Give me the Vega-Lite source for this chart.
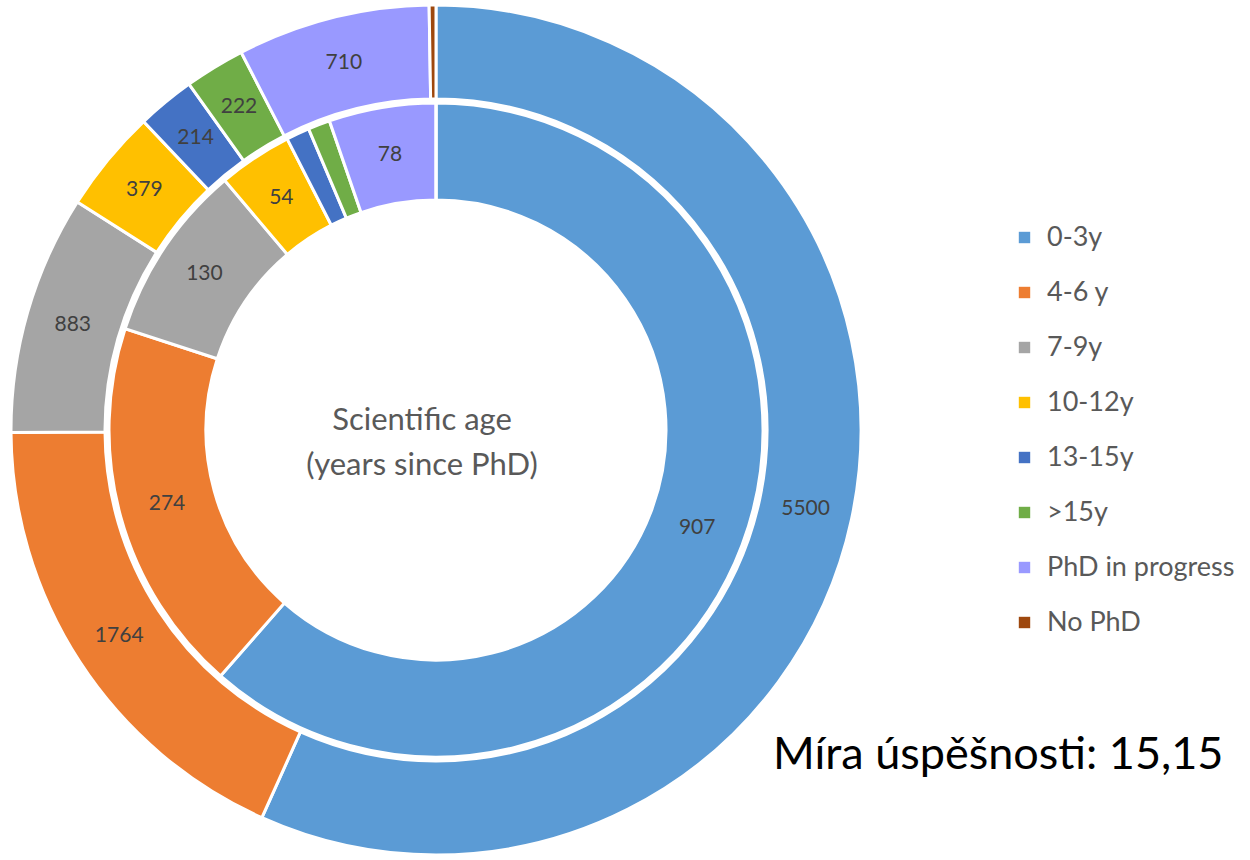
{
  "$schema": "https://vega.github.io/schema/vega-lite/v6.json",
  "width": 872,
  "height": 860,
  "autosize": {"type": "none"},
  "padding": {"left": 0, "top": 0, "right": 378, "bottom": 0},
  "background": "white",
  "config": {"view": {"stroke": null}},
  "title": {
    "text": "Míra úspěšnosti: 15,15",
    "orient": "bottom",
    "anchor": "start",
    "offset": 0,
    "dx": 773,
    "dy": -92,
    "baseline": "alphabetic",
    "font": "Lato",
    "fontSize": 45,
    "fontWeight": "normal",
    "color": "#000000"
  },
  "datasets": {
    "rings": [
      {"ring": "outer", "category": "0-3y", "value": 5500, "order": 1},
      {"ring": "outer", "category": "4-6 y", "value": 1764, "order": 2},
      {"ring": "outer", "category": "7-9y", "value": 883, "order": 3},
      {"ring": "outer", "category": "10-12y", "value": 379, "order": 4},
      {"ring": "outer", "category": "13-15y", "value": 214, "order": 5},
      {"ring": "outer", "category": ">15y", "value": 222, "order": 6},
      {"ring": "outer", "category": "PhD in progress", "value": 710, "order": 7},
      {"ring": "outer", "category": "No PhD", "value": 25, "order": 8},
      {"ring": "inner", "category": "0-3y", "value": 907, "order": 1},
      {"ring": "inner", "category": "4-6 y", "value": 274, "order": 2},
      {"ring": "inner", "category": "7-9y", "value": 130, "order": 3},
      {"ring": "inner", "category": "10-12y", "value": 54, "order": 4},
      {"ring": "inner", "category": "13-15y", "value": 17, "order": 5},
      {"ring": "inner", "category": ">15y", "value": 16, "order": 6},
      {"ring": "inner", "category": "PhD in progress", "value": 78, "order": 7},
      {"ring": "inner", "category": "No PhD", "value": 0, "order": 8}
    ],
    "center": [{"line1": "Scientific age", "line2": "(years since PhD)"}]
  },
  "layer": [
    {
      "data": {"name": "rings"},
      "transform": [{"filter": "datum.ring === 'outer'"}],
      "mark": {"type": "arc", "radius": 425, "radius2": 331, "stroke": "white", "strokeWidth": 3},
      "encoding": {
        "theta": {"field": "value", "type": "quantitative", "stack": true},
        "order": {"field": "order", "type": "quantitative"},
        "color": {
          "field": "category",
          "type": "nominal",
          "scale": {
            "domain": ["0-3y", "4-6 y", "7-9y", "10-12y", "13-15y", ">15y", "PhD in progress", "No PhD"],
            "range": ["#5B9BD5", "#ED7D31", "#A5A5A5", "#FFC000", "#4472C4", "#70AD47", "#9999FF", "#9E480E"]
          },
          "legend": {
            "title": null,
            "orient": "none",
            "legendX": 1011,
            "legendY": 224,
            "symbolType": "square",
            "symbolSize": 130,
            "symbolStrokeWidth": 0,
            "labelFont": "Lato",
            "labelFontSize": 27,
            "labelColor": "#595959",
            "labelOffset": 9,
            "rowPadding": 27,
            "labelLimit": 400
          }
        }
      }
    },
    {
      "data": {"name": "rings"},
      "transform": [{"filter": "datum.ring === 'outer'"}],
      "mark": {"type": "text", "radius": 378, "font": "Lato", "fontSize": 21, "color": "#404040"},
      "encoding": {
        "theta": {"field": "value", "type": "quantitative", "stack": true},
        "order": {"field": "order", "type": "quantitative"},
        "text": {"condition": {"test": "datum.value >= 50", "field": "value", "type": "quantitative", "format": "d"}, "value": ""}
      }
    },
    {
      "data": {"name": "rings"},
      "transform": [{"filter": "datum.ring === 'inner'"}],
      "mark": {"type": "arc", "radius": 327, "radius2": 230, "stroke": "white", "strokeWidth": 3},
      "encoding": {
        "theta": {"field": "value", "type": "quantitative", "stack": true},
        "order": {"field": "order", "type": "quantitative"},
        "color": {"field": "category", "type": "nominal"}
      }
    },
    {
      "data": {"name": "rings"},
      "transform": [{"filter": "datum.ring === 'inner'"}],
      "mark": {"type": "text", "radius": 279, "font": "Lato", "fontSize": 21, "color": "#404040"},
      "encoding": {
        "theta": {"field": "value", "type": "quantitative", "stack": true},
        "order": {"field": "order", "type": "quantitative"},
        "text": {"condition": {"test": "datum.value >= 50", "field": "value", "type": "quantitative", "format": "d"}, "value": ""}
      }
    },
    {
      "data": {"name": "center"},
      "mark": {"type": "text", "font": "Lato", "fontSize": 31, "color": "#595959", "dx": -14, "dy": -9},
      "encoding": {"text": {"field": "line1"}}
    },
    {
      "data": {"name": "center"},
      "mark": {"type": "text", "font": "Lato", "fontSize": 31, "color": "#595959", "dx": -14, "dy": 36},
      "encoding": {"text": {"field": "line2"}}
    }
  ],
  "resolve": {"scale": {"theta": "independent"}}
}
